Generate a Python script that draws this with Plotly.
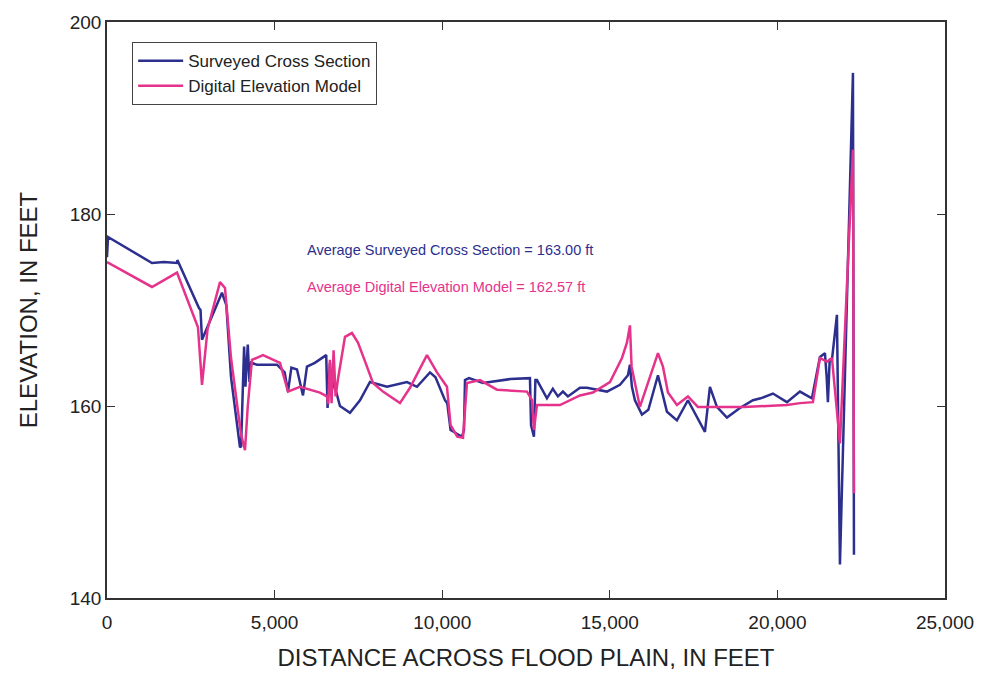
import plotly.graph_objects as go

# Surveyed cross section
survey_x = [0, 30, 1342, 1700, 2088, 2100, 2744, 2790, 2834, 3430, 3560, 3700, 3967, 4000,
            4090, 4130, 4200, 4250, 4300, 4475, 5071, 5300, 5400, 5500, 5668, 5847, 5966, 6200,
            6540, 6580, 6650, 6700, 6760, 6950, 7249, 7547, 7845, 8352, 8949, 9247, 9635, 9800,
            10083, 10150, 10250, 10590, 10650, 10680, 10800, 11216, 12022, 12618, 12650, 12737,
            12780, 12827, 13125, 13300, 13453, 13602, 13750, 14110, 14318, 14915, 15303, 15541,
            15601, 15660, 15750, 15959, 16150, 16437, 16705, 17003, 17331, 17480, 17838, 17987,
            18196, 18494, 18882, 19270, 19500, 19867, 20284, 20672, 21030, 21269, 21418, 21470,
            21507, 21560, 21627, 21776, 21866, 22254, 22284]
survey_y = [175.5, 177.6, 174.9, 175.0, 174.9, 175.2, 170.2, 170.0, 166.9, 171.8, 170.5, 163.0, 155.7, 155.8,
            166.2, 162.0, 166.4, 162.5, 164.5, 164.3, 164.3, 163.5, 161.5, 164.0, 163.8, 161.1, 164.1, 164.5,
            165.3, 159.8, 164.5, 161.5, 162.5, 160.0, 159.3, 160.6, 162.5, 162.0, 162.5, 162.0, 163.5, 163.0,
            160.6, 160.3, 157.5, 156.8, 157.5, 162.7, 162.9, 162.4, 162.8, 162.9, 158.0, 156.8,
            162.7, 162.7, 160.8, 161.8, 161.0, 161.5, 161.0, 161.9, 161.9, 161.5, 162.2, 163.2,
            164.3, 162.0, 160.6, 159.1, 159.6, 163.2, 159.4, 158.5, 160.6, 159.6, 157.3, 162.0,
            159.9, 158.8, 159.8, 160.6, 160.8, 161.3, 160.4, 161.5, 160.8, 165.1, 165.5, 163.0,
            160.4, 164.8, 164.8, 169.5, 143.5, 194.7, 144.5]

# Digital elevation model
dem_x = [0, 1342, 2088, 2714, 2834, 3000, 3371, 3520, 3700, 4000, 4117, 4200, 4325, 4654, 5161,
         5400, 5758, 6354, 6560, 6600, 6650, 6700, 6760, 6820, 6900, 7100, 7308, 7487, 7756, 7935,
         8233, 8740, 9039, 9545, 9844, 10142, 10250, 10450, 10620, 10739, 11127, 11634, 12529, 12678,
         12737, 12827, 13513, 14110, 14497, 15005, 15363, 15511, 15601, 15650, 15899, 16198, 16437,
         16586, 16735, 17003, 17331, 17629, 19000, 20284, 20672, 21060, 21269, 21478, 21627, 21866,
         22254, 22284]
dem_y = [175.0, 172.4, 173.9, 168.2, 162.2, 168.0, 172.9, 172.3, 165.0, 157.0, 155.4, 160.0, 164.8, 165.3, 164.5,
         161.5, 162.0, 161.4, 161.0, 160.2, 164.8, 160.3, 165.8, 161.0, 163.0, 167.2, 167.6, 166.6, 164.1, 162.4,
         161.5, 160.3, 161.9, 165.3, 163.5, 162.0, 158.0, 156.8, 156.7, 162.4, 162.7, 161.7, 161.5, 160.6,
         157.5, 160.1, 160.1, 161.1, 161.4, 162.5, 165.0, 166.6, 168.4, 164.1, 159.9, 163.0, 165.5,
         164.1, 161.4, 160.1, 161.0, 159.9, 159.9, 160.1, 160.3, 160.4, 165.0, 164.6, 165.0, 156.1,
         186.7, 150.9]

x_ticks = [0, 5000, 10000, 15000, 20000, 25000]
y_ticks = [140, 160, 180, 200]

BLUE = "#2c2f8e"
PINK = "#e5338c"

fig = go.Figure()
fig.add_trace(go.Scatter(x=survey_x, y=survey_y, mode="lines", name="Surveyed Cross Section",
                         line=dict(color=BLUE, width=2.5)))
fig.add_trace(go.Scatter(x=dem_x, y=dem_y, mode="lines", name="Digital Elevation Model",
                         line=dict(color=PINK, width=2.5)))

font_family = "Liberation Sans, Arial, sans-serif"

fig.update_layout(
    width=971, height=663,
    margin=dict(l=99, r=34, t=14, b=73),
    paper_bgcolor="white", plot_bgcolor="white",
    font=dict(family=font_family, color="#222"),
    showlegend=True,
    legend=dict(x=0.03, y=0.965, xanchor="left", yanchor="top",
                bordercolor="#444", borderwidth=1, bgcolor="white", itemwidth=45,
                font=dict(size=17, color="#222"), tracegroupgap=0),
    xaxis=dict(range=[0, 25000], tickvals=x_ticks, tickformat=",d", automargin=False,
               ticks="inside", ticklen=8, tickcolor="#333", showline=True, linecolor="#333",
               linewidth=1.5, mirror="ticks", showgrid=False, zeroline=False,
               tickfont=dict(size=19, color="#222"), ticklabelstandoff=6,
               title=dict(text="DISTANCE ACROSS FLOOD PLAIN, IN FEET", font=dict(size=24, color="#222"),
                          standoff=29)),
    yaxis=dict(range=[140, 200], tickvals=y_ticks, automargin=False,
               ticks="inside", ticklen=8, tickcolor="#333", showline=True, linecolor="#333",
               linewidth=1.5, mirror="ticks", showgrid=False, zeroline=False,
               tickfont=dict(size=19, color="#222"),
               title=dict(text="ELEVATION, IN FEET", font=dict(size=24, color="#222"), standoff=25)),
    annotations=[
        dict(x=5900, y=176.3, xref="x", yref="y", text="Average Surveyed Cross Section = 163.00 ft",
             showarrow=False, xanchor="left", font=dict(size=14.5, color=BLUE)),
        dict(x=5900, y=172.4, xref="x", yref="y", text="Average Digital Elevation Model = 162.57 ft",
             showarrow=False, xanchor="left", font=dict(size=14.5, color=PINK)),
    ],
)

fig.write_html("out.html")
